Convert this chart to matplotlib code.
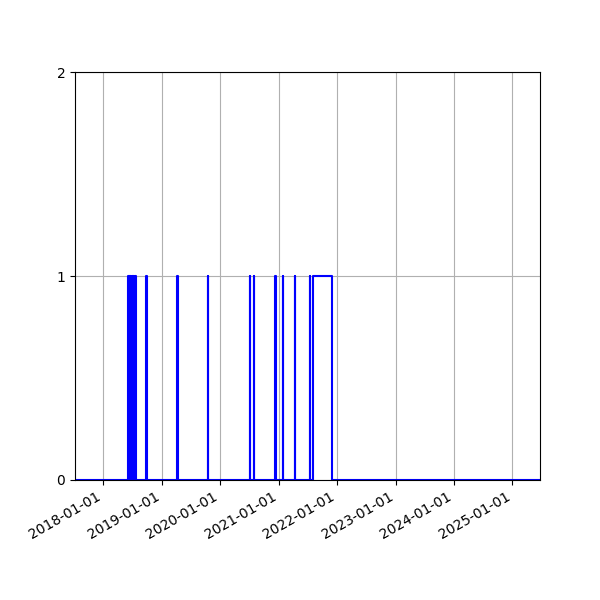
import matplotlib
matplotlib.use("Agg")
import matplotlib.pyplot as plt
import matplotlib.dates as mdates
import numpy as np
import pandas as pd

# Periods where the signal is 1 (start, end)
on_starts = ["2018-06-07", "2018-06-11", "2018-06-19", "2018-06-27", "2018-07-06", "2018-07-15",
             "2018-09-26", "2019-04-08", "2019-10-18", "2020-07-05", "2020-07-28",
             "2020-12-11", "2021-01-26", "2021-04-12", "2021-07-15", "2021-08-05"]
on_ends = ["2018-06-09", "2018-06-17", "2018-06-25", "2018-07-04", "2018-07-13", "2018-07-25",
           "2018-09-28", "2019-04-10", "2019-10-20", "2020-07-07", "2020-07-30",
           "2020-12-14", "2021-01-28", "2021-04-14", "2021-07-17", "2021-11-28"]
series_start = "2017-07-08"
series_end = "2025-06-22"

# build step series
times = [pd.Timestamp(series_start)]
vals = [0]
for s, e in zip(on_starts, on_ends):
    times += [pd.Timestamp(s), pd.Timestamp(e)]
    vals += [1, 0]
times.append(pd.Timestamp(series_end))
vals.append(0)

fig, ax = plt.subplots(figsize=(6, 6), dpi=100)
ax.step(times, vals, where="post", color="blue", linewidth=1.5)
ax.set_xlim(pd.Timestamp(series_start), pd.Timestamp(series_end))
ax.set_ylim(0, 2)
ax.set_yticks([0, 1, 2])
ax.xaxis.set_major_locator(mdates.YearLocator())
ax.xaxis.set_major_formatter(mdates.DateFormatter("%Y-%m-%d"))
ax.grid(True)
fig.autofmt_xdate()
fig.savefig("out.png", dpi=100)
